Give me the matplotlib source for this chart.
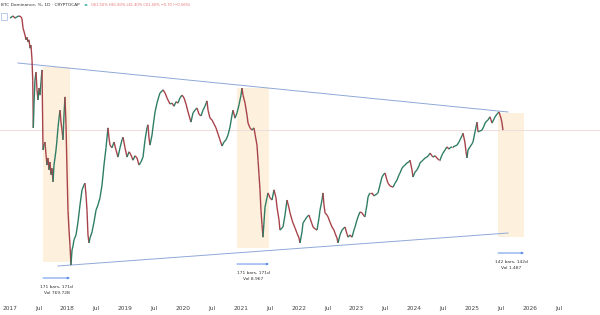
import numpy as np
import matplotlib
matplotlib.use('Agg')
import matplotlib.pyplot as plt
from matplotlib.collections import LineCollection
from matplotlib.patches import Rectangle
import matplotlib.transforms as mtransforms

# ---- data (decimal year, BTC dominance %) ----
years = [2017.007, 2017.059, 2017.093, 2017.128, 2017.163, 2017.197, 2017.215, 2017.232, 2017.266, 2017.284,
         2017.301, 2017.318, 2017.336, 2017.353, 2017.370, 2017.388, 2017.400, 2017.405, 2017.410, 2017.422,
         2017.439, 2017.457, 2017.474, 2017.491, 2017.509, 2017.526, 2017.543, 2017.561, 2017.578, 2017.595,
         2017.612, 2017.630, 2017.647, 2017.664, 2017.682, 2017.699, 2017.716, 2017.734, 2017.751, 2017.768,
         2017.785, 2017.803, 2017.820, 2017.837, 2017.855, 2017.872, 2017.889, 2017.907, 2017.924, 2017.941,
         2017.958, 2017.976, 2017.993, 2018.010, 2018.028, 2018.045, 2018.062, 2018.080, 2018.097, 2018.114,
         2018.149, 2018.183, 2018.218, 2018.253, 2018.287, 2018.304, 2018.322, 2018.339, 2018.356, 2018.374,
         2018.391, 2018.426, 2018.460, 2018.495, 2018.529, 2018.564, 2018.599, 2018.633, 2018.668, 2018.702,
         2018.720, 2018.737, 2018.772, 2018.806, 2018.841, 2018.875, 2018.910, 2018.945, 2018.962, 2018.997,
         2019.031, 2019.066, 2019.100, 2019.135, 2019.170, 2019.204, 2019.239, 2019.273, 2019.308, 2019.343,
         2019.377, 2019.394, 2019.412, 2019.429, 2019.464, 2019.481, 2019.516, 2019.550, 2019.585, 2019.602,
         2019.637, 2019.654, 2019.689, 2019.723, 2019.740, 2019.775, 2019.810, 2019.844, 2019.879, 2019.913,
         2019.948, 2019.983, 2020.017, 2020.052, 2020.087, 2020.138, 2020.173, 2020.208, 2020.242, 2020.277,
         2020.311, 2020.346, 2020.381, 2020.415, 2020.433, 2020.467, 2020.502, 2020.536, 2020.571, 2020.606,
         2020.640, 2020.675, 2020.709, 2020.744, 2020.779, 2020.813, 2020.848, 2020.865, 2020.900, 2020.934,
         2020.969, 2021.003, 2021.021, 2021.038, 2021.073, 2021.107, 2021.125, 2021.159, 2021.194, 2021.228,
         2021.246, 2021.280, 2021.298, 2021.315, 2021.332, 2021.349, 2021.367, 2021.384, 2021.401, 2021.419,
         2021.453, 2021.471, 2021.505, 2021.540, 2021.574, 2021.609, 2021.626, 2021.661, 2021.678, 2021.713,
         2021.730, 2021.765, 2021.799, 2021.834, 2021.851, 2021.886, 2021.903, 2021.938, 2021.972, 2022.007,
         2022.024, 2022.059, 2022.076, 2022.111, 2022.145, 2022.180, 2022.197, 2022.232, 2022.249, 2022.284,
         2022.318, 2022.353, 2022.370, 2022.405, 2022.422, 2022.439, 2022.457, 2022.491, 2022.509, 2022.543,
         2022.578, 2022.612, 2022.630, 2022.664, 2022.682, 2022.716, 2022.751, 2022.785, 2022.803, 2022.837,
         2022.855, 2022.889, 2022.924, 2022.958, 2022.976, 2023.010, 2023.028, 2023.062, 2023.097, 2023.131,
         2023.149, 2023.166, 2023.183, 2023.201, 2023.235, 2023.270, 2023.304, 2023.322, 2023.356, 2023.374,
         2023.408, 2023.443, 2023.478, 2023.495, 2023.529, 2023.547, 2023.581, 2023.633, 2023.668, 2023.702,
         2023.737, 2023.754, 2023.789, 2023.806, 2023.841, 2023.875, 2023.910, 2023.927, 2023.962, 2023.979,
         2024.014, 2024.048, 2024.083, 2024.100, 2024.135, 2024.152, 2024.187, 2024.221, 2024.256, 2024.273,
         2024.308, 2024.325, 2024.360, 2024.394, 2024.429, 2024.446, 2024.481, 2024.498, 2024.533, 2024.567,
         2024.602, 2024.619, 2024.654, 2024.671, 2024.706, 2024.740, 2024.775, 2024.792, 2024.827, 2024.844,
         2024.862, 2024.879, 2024.896, 2024.913, 2024.931, 2024.965, 2025.000, 2025.017, 2025.052, 2025.087,
         2025.104, 2025.138, 2025.173, 2025.208, 2025.225, 2025.260, 2025.277, 2025.311, 2025.329, 2025.346,
         2025.381, 2025.398, 2025.433, 2025.450, 2025.467, 2025.484, 2025.502, 2025.519, 2025.536]

dominance = [88.8, 89.3, 88.8, 89.1, 89.3, 89.1, 88.6, 86.6, 85.0, 83.9,
             84.5, 83.4, 83.9, 82.0, 82.7, 79.3, 74.8, 70.3, 64.0, 69.2,
             74.8, 76.6, 72.6, 70.3, 73.0, 71.4, 74.4, 77.1, 59.0, 60.1,
             60.8, 57.9, 55.6, 57.2, 54.5, 56.3, 53.4, 54.9, 51.8, 55.6,
             57.2, 59.0, 61.3, 64.0, 66.2, 68.0, 65.3, 63.5, 61.3, 66.9,
             71.0, 64.7, 54.5, 45.4, 40.9, 37.5, 33.0, 36.4, 37.3, 38.7,
             39.8, 42.7, 46.6, 50.0, 51.1, 51.5, 48.8, 45.4, 39.8, 38.0,
             39.1, 40.5, 42.7, 45.4, 46.6, 48.2, 51.1, 55.6, 59.5, 64.0,
             61.7, 60.1, 59.5, 60.8, 59.0, 57.4, 59.5, 61.3, 61.9, 59.5,
             57.4, 58.6, 57.9, 56.7, 57.7, 57.2, 55.6, 56.3, 57.4, 61.3,
             64.0, 64.7, 61.7, 60.1, 62.4, 64.2, 67.6, 69.6, 71.2, 71.9,
             72.3, 72.6, 71.9, 70.8, 70.3, 69.4, 69.6, 68.9, 69.9, 69.6,
             70.8, 71.4, 70.8, 69.4, 67.6, 65.3, 67.4, 68.0, 68.5, 67.1,
             66.7, 68.0, 68.9, 70.1, 68.0, 66.2, 65.8, 64.9, 64.0, 62.6,
             61.3, 59.9, 60.8, 61.3, 62.4, 64.2, 66.9, 68.0, 66.2, 67.4,
             69.2, 71.4, 73.0, 71.4, 69.6, 66.9, 65.1, 64.0, 63.5, 64.0,
             62.6, 60.1, 56.7, 53.4, 50.0, 45.4, 42.1, 39.3, 42.7, 46.1,
             48.2, 49.3, 48.2, 47.7, 50.0, 48.2, 46.1, 43.2, 40.9, 41.4,
             41.6, 44.3, 47.7, 45.9, 44.8, 43.2, 42.5, 41.4, 40.2, 39.1,
             38.0, 40.5, 42.5, 43.2, 43.9, 44.3, 43.6, 42.3, 41.6, 41.2,
             40.9, 43.6, 45.4, 47.7, 49.3, 46.6, 44.8, 44.3, 43.9, 42.7,
             41.6, 40.9, 40.2, 39.1, 38.0, 39.8, 40.9, 41.4, 41.6, 40.0,
             39.3, 39.8, 39.3, 40.9, 41.6, 43.2, 43.9, 45.0, 44.8, 44.1,
             43.9, 45.4, 46.6, 48.4, 49.3, 49.3, 48.6, 48.8, 49.1, 49.3,
             51.1, 52.9, 53.6, 53.8, 52.2, 51.5, 50.9, 50.6, 51.5, 52.2,
             53.4, 53.8, 54.9, 55.2, 55.6, 56.1, 56.3, 56.7, 54.5, 52.9,
             54.0, 54.5, 55.4, 56.1, 56.5, 56.7, 57.2, 57.4, 57.9, 58.3,
             57.7, 57.4, 57.7, 57.2, 56.7, 56.7, 57.9, 58.3, 59.0, 59.7,
             59.2, 59.5, 59.7, 59.7, 59.9, 60.1, 60.8, 61.3, 62.2, 62.8,
             61.7, 60.6, 58.6, 57.2, 59.0, 59.7, 60.4, 60.8, 63.1, 65.3,
             63.1, 63.3, 63.5, 64.4, 65.1, 65.6, 65.8, 66.5, 65.8, 65.1,
             66.0, 66.5, 67.1, 67.4, 67.6, 66.9, 66.2, 65.1, 63.5]

tick_years = [2017.0, 2017.5, 2018.0, 2018.5, 2019.0, 2019.5, 2020.0, 2020.5, 2021.0, 2021.5,
              2022.0, 2022.5, 2023.0, 2023.5, 2024.0, 2024.5, 2025.0, 2025.5, 2026.0, 2026.5]
tick_labels = ['2017', 'Jul', '2018', 'Jul', '2019', 'Jul', '2020', 'Jul', '2021', 'Jul',
               '2022', 'Jul', '2023', 'Jul', '2024', 'Jul', '2025', 'Jul', '2026', 'Jul']

# trend lines (start/end year, start/end value)
upper_years = [2017.145, 2025.623]
upper_vals = [78.66, 67.59]
lower_years = [2017.837, 2025.623]
lower_vals = [32.79, 40.24]

# date ranges
range_start = [2017.578, 2020.934, 2025.450]
range_end = [2018.045, 2021.488, 2025.900]
range_high = [77.76, 73.01, 67.36]
range_low = [33.69, 36.85, 39.34]
range_bars = ['171 bars, 171d', '171 bars, 171d', '142 bars, 142d']
range_vol = ['Vol 769.72B', 'Vol 8.967', 'Vol 1.487']

title = 'BTC Dominance, %, 1D · CRYPTOCAP'
ohlc = 'O61.50% H61.80% L61.40% C61.40% −0.70 (−0.56%)'

# ---- figure ----
W, H = 600, 315
fig = plt.figure(figsize=(W / 100, H / 100), dpi=100)
fig.patch.set_facecolor('white')
ax = fig.add_axes([0, 15 / H, 1, 300 / H])
ax.set_facecolor('white')
for s in ax.spines.values():
    s.set_visible(False)

x0 = 2017 - 9.6 / 57.8
x1 = 2017 + 590.4 / 57.8
ax.set_xlim(x0, x1)
ax.set_ylim(92.9 - 300 / 4.425, 92.9)

# shaded ranges
for a, b, lo, hi in zip(range_start, range_end, range_low, range_high):
    ax.add_patch(Rectangle((a, lo), b - a, hi - lo, facecolor='#fdf0dd', edgecolor='none', zorder=1))

# price line
ax.axhline(dominance[-1], color='#efdcdc', lw=0.7, zorder=1.5)

# trend lines
ax.plot(upper_years, upper_vals, color='#8fa8d8', lw=0.7, zorder=2)
ax.plot(lower_years, lower_vals, color='#8fa8d8', lw=0.7, zorder=2)

# series, colored by direction
xs = np.array(years)
ys = np.array(dominance)
pts = np.column_stack([xs, ys]).reshape(-1, 1, 2)
segs = np.concatenate([pts[:-1], pts[1:]], axis=1)
cols = ['#2f7d64' if d > 0 else '#a8434a' for d in np.diff(ys)]
lc = LineCollection(segs, colors=cols, linewidths=1.0, zorder=3, capstyle='butt')
ax.add_collection(lc)

# range annotations
for a, b, lo, nb, nv in zip(range_start, range_end, range_low, range_bars, range_vol):
    arr_tr = mtransforms.offset_copy(ax.transData, fig=fig, x=0, y=-16, units='dots')
    ax.annotate('', xy=(b, lo), xytext=(a, lo), xycoords=arr_tr, textcoords=arr_tr,
                arrowprops=dict(arrowstyle='-|>', color='#5b8fe8', lw=0.7,
                                mutation_scale=3, shrinkA=0, shrinkB=0))
    mid = (a + b) / 2
    t1 = mtransforms.offset_copy(ax.transData, fig=fig, x=0, y=-25, units='dots')
    t2 = mtransforms.offset_copy(ax.transData, fig=fig, x=0, y=-31, units='dots')
    ax.text(mid, lo, nb, transform=t1, ha='center', va='center', fontsize=3.2, color='#333333')
    ax.text(mid, lo, nv, transform=t2, ha='center', va='center', fontsize=3.2, color='#333333')

# x ticks
ax.set_xticks(tick_years)
ax.set_xticklabels(tick_labels, fontsize=4.2, color='#444444')
ax.tick_params(axis='x', length=0, pad=4)
ax.set_yticks([])

# header
fig.text(1 / W, 1 - 5 / H, title, ha='left', va='center', fontsize=3.1, color='#333333')
fig.patches.append(plt.Circle((86 / W, 1 - 5 / H), 1.5 / W, transform=fig.transFigure,
                              facecolor='#26a69a', edgecolor='none'))
fig.text(91 / W, 1 - 5 / H, ohlc, ha='left', va='center', fontsize=2.6, color='#e57373')
fig.patches.append(Rectangle((1 / W, 1 - 20 / H), 6 / W, 7 / H, transform=fig.transFigure,
                             facecolor='white', edgecolor='#9fb7e6', lw=0.5))

fig.savefig('out.png', dpi=100, facecolor='white')
